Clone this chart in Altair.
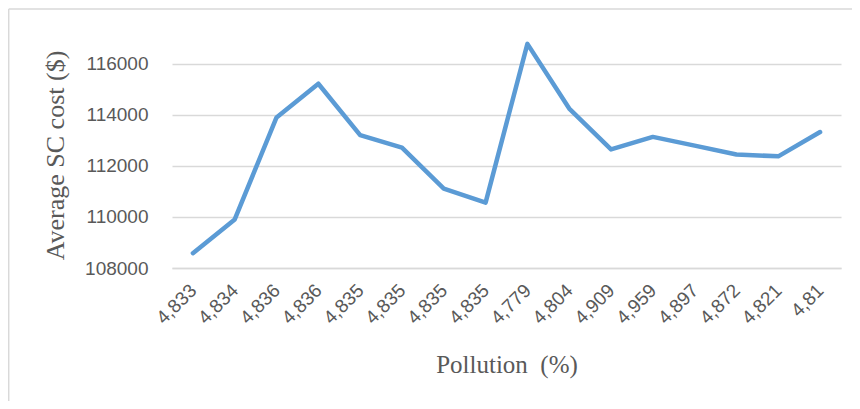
import altair as alt
import pandas as pd

labels = ["4,833", "4,834", "4,836", "4,836", "4,835", "4,835", "4,835", "4,835",
          "4,779", "4,804", "4,909", "4,959", "4,897", "4,872", "4,821", "4,81"]
costs = [108580, 109900, 113890, 115210, 113200, 112710, 111110, 110560,
         116770, 114240, 112640, 113130, 112790, 112440, 112370, 113320]
y_ticks = [108000, 110000, 112000, 114000, 116000]

df = pd.DataFrame({"idx": list(range(len(labels))), "label": labels, "cost": costs})
label_expr = "[" + ",".join(f"'{l}'" for l in labels) + "][datum.value]"

W, H = 669, 230
GRAY = "#595959"

line = alt.Chart(df).mark_line(color="#5B9BD5", strokeWidth=4.5, strokeCap="round",
                               strokeJoin="round").encode(
    x=alt.X("idx:O", scale=alt.Scale(paddingInner=0, paddingOuter=0.5),
            axis=alt.Axis(title="Pollution\u00a0 (%)", labelExpr=label_expr, labelAngle=-45,
                          labelAlign="right", labelBaseline="middle",
                          labelFont="Liberation Sans", labelFontSize=19, labelColor=GRAY,
                          labelPadding=19, ticks=False, domain=True, domainColor="#D9D9D9",
                          domainWidth=1.5,
                          titleFont="Liberation Serif", titleFontSize=25, titleFontWeight="normal",
                          titleColor=GRAY, titleY=104, titleBaseline="alphabetic")),
    y=alt.Y("cost:Q", scale=alt.Scale(domain=[108000, 117000], nice=False, zero=False),
            axis=alt.Axis(title="Average SC cost ($)", values=y_ticks, format="d",
                          labelFont="Liberation Sans", labelFontSize=19, labelColor=GRAY,
                          labelPadding=24, ticks=False, domain=False,
                          gridColor="#D9D9D9", gridWidth=1.5,
                          titleFont="Liberation Serif", titleFontSize=26, titleFontWeight="normal",
                          titleColor=GRAY, titleAngle=-90, titleX=-104, titleY=117,
                          titleAlign="center", titleBaseline="bottom")),
)

border = alt.Chart(pd.DataFrame({"a": [0]})).mark_rule(
    stroke="#D9D9D9", strokeWidth=1.5, clip=False).encode(
    x=alt.value(-163.3), x2=alt.value(720), y=alt.value(-29), y2=alt.value(-29))
border_left = alt.Chart(pd.DataFrame({"a": [0]})).mark_rule(
    stroke="#D9D9D9", strokeWidth=1.5, clip=False).encode(
    x=alt.value(-163.3), x2=alt.value(-163.3), y=alt.value(-29), y2=alt.value(420))

chart = alt.layer(border, border_left, line).properties(
    width=W, height=H,
    background="white",
    autosize=alt.AutoSizeParams(type="none"),
    padding={"left": 164, "top": 30, "right": 11, "bottom": 133},
).configure_view(stroke=None, strokeWidth=0)

chart.save("out.html", embed_options={"renderer": "svg", "actions": False})
